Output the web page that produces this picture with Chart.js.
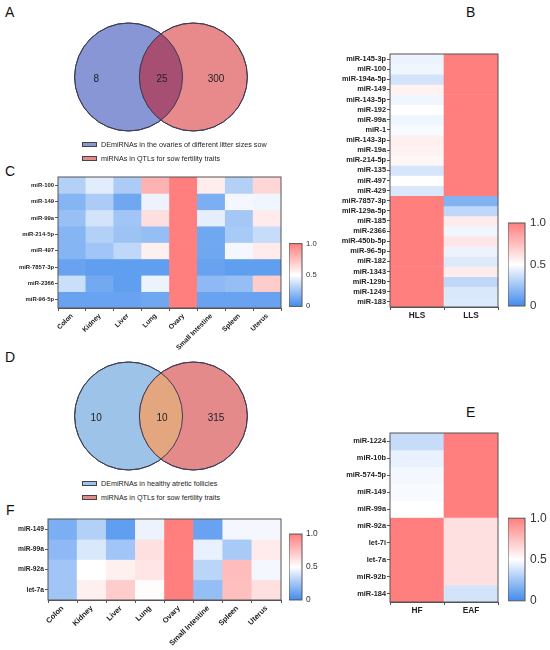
<!DOCTYPE html>
<html>
<head>
<meta charset="utf-8">
<script src="https://cdn.jsdelivr.net/npm/chart.js@4.4.0/dist/chart.umd.min.js"></script>
<style>
body { margin: 0; width: 550px; height: 650px; background: #fff; position: relative; overflow: hidden; font-family: 'Liberation Sans', Arial, sans-serif; }
canvas { position: absolute; }
.tag { position: absolute; font-size: 14px; line-height: 14px; color: #111; }
.leg { position: absolute; left: 82px; height: 10px; line-height: 10px; font-size: 7.2px; color: #222; white-space: nowrap; }
.leg i { display: inline-block; width: 13px; height: 3px; border: 1px solid #444; vertical-align: middle; margin-right: 4px; margin-top: -1px; }
</style>
</head>
<body>
<div class="tag" style="left:5px;top:5px">A</div>
<div class="tag" style="left:466px;top:5px">B</div>
<div class="tag" style="left:5px;top:164px">C</div>
<div class="tag" style="left:5px;top:350px">D</div>
<div class="tag" style="left:466px;top:405px">E</div>
<div class="tag" style="left:6px;top:503px">F</div>

<canvas id="vennA" width="300" height="140" style="left:0;top:0"></canvas>
<canvas id="vennD" width="300" height="140" style="left:0;top:339px"></canvas>
<canvas id="heatB" width="170" height="281" style="left:330px;top:46px"></canvas>
<canvas id="barB" width="42" height="107" style="left:508px;top:211px"></canvas>
<canvas id="heatC" width="283" height="184" style="left:0;top:169px"></canvas>
<canvas id="barC" width="38" height="80" style="left:289px;top:235px"></canvas>
<canvas id="heatE" width="170" height="197" style="left:330px;top:425px"></canvas>
<canvas id="barE" width="42" height="107" style="left:508px;top:506px"></canvas>
<canvas id="heatF" width="283" height="137" style="left:0;top:511px"></canvas>
<canvas id="barF" width="38" height="84" style="left:289px;top:525px"></canvas>

<script>
// Venn counts: left only, shared, right only
const aCounts = [8, 25, 300]
const dCounts = [10, 10, 315]
const aSets = ['DEmiRNAs in the ovaries of different litter sizes sow', 'miRNAs in QTLs for sow fertility traits']
const dSets = ['DEmiRNAs in healthy atretic follicles', 'miRNAs in QTLs for sow fertility traits']

const tissues = ['Colon', 'Kidney', 'Liver', 'Lung', 'Ovary', 'Small Intestine', 'Spleen', 'Uterus']

const bRows = ['miR-145-3p', 'miR-100', 'miR-194a-5p', 'miR-149', 'miR-143-5p', 'miR-192', 'miR-99a', 'miR-1',
  'miR-143-3p', 'miR-19a', 'miR-214-5p', 'miR-135', 'miR-497', 'miR-429', 'miR-7857-3p', 'miR-129a-5p',
  'miR-185', 'miR-2366', 'miR-450b-5p', 'miR-96-5p', 'miR-182', 'miR-1343', 'miR-129b', 'miR-1249', 'miR-183']
const bCols = ['HLS', 'LLS']
const bHLS = [0.45, 0.46, 0.38, 0.55, 0.46, 0.5, 0.46, 0.48, 0.56, 0.55, 0.53, 0.39, 0.5, 0.4,
  1, 1, 1, 1, 1, 1, 1, 1, 1, 1, 1]
const bLLS = [1, 1, 1, 1, 1, 1, 1, 1, 1, 1, 1, 1, 1, 1,
  0.17, 0.33, 0.58, 0.46, 0.6, 0.45, 0.41, 0.57, 0.33, 0.4, 0.41]

const cRows = ['miR-100', 'miR-149', 'miR-99a', 'miR-214-5p', 'miR-497', 'miR-7857-3p', 'miR-2366', 'miR-96-5p']
const cValues = [
  [0.3, 0.42, 0.28, 0.8, 1, 0.57, 0.3, 0.66],
  [0.18, 0.28, 0.12, 0.45, 1, 0.15, 0.47, 0.46],
  [0.23, 0.38, 0.25, 0.63, 1, 0.43, 0.26, 0.58],
  [0.18, 0.3, 0.24, 0.22, 1, 0.12, 0.27, 0.35],
  [0.18, 0.25, 0.33, 0.56, 1, 0.12, 0.47, 0.58],
  [0.1, 0.08, 0.08, 0.08, 1, 0.1, 0.08, 0.08],
  [0.36, 0.13, 0.08, 0.45, 1, 0.2, 0.22, 0.7],
  [0.1, 0.1, 0.1, 0.12, 1, 0.1, 0.1, 0.1]
]

const eRows = ['miR-1224', 'miR-10b', 'miR-574-5p', 'miR-149', 'miR-99a', 'miR-92a', 'let-7i', 'let-7a', 'miR-92b', 'miR-184']
const eCols = ['HF', 'EAF']
const eHF = [0.35, 0.44, 0.47, 0.48, 0.5, 1, 1, 1, 1, 1]
const eEAF = [1, 1, 1, 1, 1, 0.62, 0.62, 0.62, 0.62, 0.38]

const fRows = ['miR-149', 'miR-99a', 'miR-92a', 'let-7a']
const fValues = [
  [0.15, 0.3, 0.08, 0.45, 1, 0.1, 0.47, 0.47],
  [0.2, 0.4, 0.25, 0.62, 1, 0.44, 0.27, 0.58],
  [0.25, 0.5, 0.56, 0.6, 1, 0.32, 0.76, 0.47],
  [0.25, 0.56, 0.7, 0.51, 1, 0.22, 0.75, 0.62]
]

const cbTicks = [0, 0.5, 1]
const cbLabels = ['0', '0.5', '1.0']

Chart.defaults.font.family = "'Liberation Sans', Arial, sans-serif"

const lowColor = [66, 139, 236]
const highColor = [255, 127, 127]

function cellColor(v) {
  const t = v < 0.5 ? v / 0.5 : (v - 0.5) / 0.5
  const a = v < 0.5 ? lowColor : [255, 255, 255]
  const b = v < 0.5 ? [255, 255, 255] : highColor
  const c = a.map((x, i) => Math.round(x + (b[i] - x) * t))
  return `rgb(${c.join(',')})`
}

// outline round the plot area
const frame = {
  id: 'frame',
  afterDraw(chart) {
    const a = chart.chartArea
    const ctx = chart.ctx
    ctx.save()
    ctx.strokeStyle = '#555'
    ctx.lineWidth = 1
    ctx.strokeRect(a.left, a.top, a.right - a.left, a.bottom - a.top)
    ctx.restore()
  }
}

function heatmap(id, rows, cols, grid, o) {
  new Chart(document.getElementById(id), {
    type: 'bar',
    data: {
      labels: cols,
      datasets: rows.map((r, i) => ({
        label: r,
        data: cols.map(() => 1),
        backgroundColor: grid[i].map(cellColor),
        borderWidth: 0,
        categoryPercentage: 1,
        barPercentage: 1
      }))
    },
    options: {
      responsive: false,
      animation: false,
      events: [],
      layout: { padding: { top: 8, right: 2, left: 0, bottom: 0 } },
      plugins: { legend: { display: false }, tooltip: { enabled: false } },
      scales: {
        x: {
          stacked: true,
          grid: { drawOnChartArea: false, tickLength: 3, color: '#555' },
          border: { color: '#555' },
          ticks: { color: '#222', font: { size: o.xFont, weight: 'bold' }, minRotation: o.rot, maxRotation: o.rot, padding: 1, autoSkip: false },
          afterFit: s => { s.height = o.xH }
        },
        y: {
          stacked: true,
          min: 0,
          max: rows.length,
          reverse: true,
          grid: { drawOnChartArea: false, tickLength: 3, color: '#555' },
          border: { color: '#555' },
          ticks: { color: '#222', font: { size: o.yFont, weight: 'bold' }, padding: 1, autoSkip: false, callback: v => rows[Math.floor(v)] },
          afterBuildTicks: s => { s.ticks = rows.map((r, i) => ({ value: i + 0.5 })) },
          afterFit: s => { s.width = o.yW }
        }
      }
    },
    plugins: [frame]
  })
}

function colorbar(id, o) {
  new Chart(document.getElementById(id), {
    type: 'bar',
    data: {
      labels: [''],
      datasets: [{
        data: [1],
        borderWidth: 0,
        categoryPercentage: 1,
        barPercentage: 1,
        backgroundColor: ctx => {
          const area = ctx.chart.chartArea
          if (!area) return null
          const g = ctx.chart.ctx.createLinearGradient(0, area.bottom, 0, area.top)
          g.addColorStop(0, cellColor(0))
          g.addColorStop(0.5, cellColor(0.5))
          g.addColorStop(1, cellColor(1))
          return g
        }
      }]
    },
    options: {
      responsive: false,
      animation: false,
      events: [],
      layout: { padding: { top: o.pad, bottom: o.pad, left: 0, right: 0 } },
      plugins: { legend: { display: false }, tooltip: { enabled: false } },
      scales: {
        x: { display: false },
        y: {
          position: 'right',
          min: 0,
          max: 1,
          grid: { display: false, drawTicks: false, tickLength: 0 },
          border: { display: false },
          ticks: { color: '#333', font: { size: o.font }, padding: o.gap, callback: v => cbLabels[cbTicks.indexOf(v)] },
          afterBuildTicks: s => { s.ticks = cbTicks.map(v => ({ value: v })) },
          afterFit: s => { s.width = o.yW }
        }
      }
    },
    plugins: [frame]
  })
}

// set circles sit at +-0.6 in units of one radius
const setX = [-0.6, 0.6]
const countX = [-1.2, 0.02, 1.02]
const vennX = { min: -2.981, max: 2.574 }
const vennY = { min: -1.167, max: 1.426 }

function venn(id, counts, colors, overlap) {
  const el = document.getElementById(id)
  new Chart(el, {
    type: 'bubble',
    data: {
      datasets: [{
        data: setX.map(x => ({ x: x, y: 0 })),
        backgroundColor: colors,
        borderColor: '#3d3d55',
        borderWidth: 1,
        clip: false,
        radius: el.width / (vennX.max - vennX.min)
      }]
    },
    options: {
      responsive: false,
      animation: false,
      events: [],
      layout: { padding: 0, autoPadding: false },
      plugins: { legend: { display: false }, tooltip: { enabled: false } },
      scales: {
        x: { display: false, min: vennX.min, max: vennX.max },
        y: { display: false, min: vennY.min, max: vennY.max }
      }
    },
    plugins: [{
      id: 'overlap',
      afterDatasetsDraw(chart) {
        const [l, r] = chart.getDatasetMeta(0).data
        const rad = l.options.radius
        const ctx = chart.ctx
        ctx.save()
        ctx.beginPath()
        ctx.arc(l.x, l.y, rad, 0, 2 * Math.PI)
        ctx.clip()
        ctx.beginPath()
        ctx.arc(r.x, r.y, rad, 0, 2 * Math.PI)
        ctx.fillStyle = overlap
        ctx.fill()
        ctx.restore()
        ctx.save()
        ctx.strokeStyle = '#3d3d55'
        ctx.lineWidth = 1
        ;[l, r].forEach(p => {
          ctx.beginPath()
          ctx.arc(p.x, p.y, rad, 0, 2 * Math.PI)
          ctx.stroke()
        })
        ctx.fillStyle = '#222'
        ctx.font = "10px 'Liberation Sans', Arial, sans-serif"
        ctx.textAlign = 'center'
        ctx.textBaseline = 'middle'
        counts.forEach((n, i) => {
          ctx.fillText(n, chart.scales.x.getPixelForValue(countX[i]), chart.scales.y.getPixelForValue(-0.04))
        })
        ctx.restore()
      }
    }]
  })
}

function legend(names, colors, tops) {
  names.forEach((n, i) => {
    const d = document.createElement('div')
    d.className = 'leg'
    d.style.top = tops[i] + 'px'
    d.innerHTML = `<i style="background:${colors[i]}"></i>${n}`
    document.body.appendChild(d)
  })
}

const aColors = ['#8896d6', '#e88a8b']
const dColors = ['#9dc3e8', '#e58a8b']

venn('vennA', aCounts, aColors, '#a64f72')
venn('vennD', dCounts, dColors, '#e3a67f')
legend(aSets, aColors, [140, 154])
legend(dSets, dColors, [479, 493])

heatmap('heatB', bRows, bCols, bRows.map((r, i) => [bHLS[i], bLLS[i]]), { yW: 60, xH: 20, xFont: 8.3, yFont: 7.4, rot: 0 })
heatmap('heatE', eRows, eCols, eRows.map((r, i) => [eHF[i], eEAF[i]]), { yW: 60, xH: 20, xFont: 8.3, yFont: 7.4, rot: 0 })
heatmap('heatC', cRows, tissues, cValues, { yW: 58, xH: 45, xFont: 6.8, yFont: 5.9, rot: 45 })
heatmap('heatF', fRows, tissues, fValues, { yW: 48, xH: 48, xFont: 7.5, yFont: 6.7, rot: 45 })

colorbar('barB', { pad: 12, font: 11.5, gap: 5, yW: 25 })
colorbar('barE', { pad: 12, font: 12, gap: 5, yW: 25 })
colorbar('barC', { pad: 8, font: 7.7, gap: 4, yW: 25 })
colorbar('barF', { pad: 8, font: 8.4, gap: 4, yW: 25 })
</script>
</body>
</html>
